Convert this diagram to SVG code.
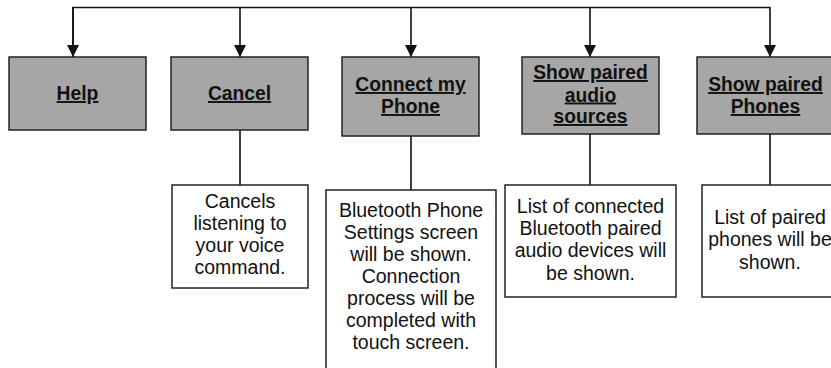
<svg xmlns="http://www.w3.org/2000/svg" width="831" height="368" viewBox="0 0 831 368">
<style>
.t{fill:#a6a6a6;stroke:#222;stroke-width:1.5}
.d{fill:#fff;stroke:#222;stroke-width:1.5}
.tt{font-family:"Liberation Sans",Arial,sans-serif;font-size:19.3px;font-weight:bold;text-decoration:underline;fill:#111;text-anchor:middle}
.dt{font-family:"Liberation Sans",Arial,sans-serif;font-size:19.5px;fill:#111;text-anchor:middle}
.c{fill:none;stroke:#111;stroke-width:1.6}
</style>
<defs>
<marker id="ah" viewBox="0 0 12 12" refX="12" refY="6" markerWidth="12" markerHeight="12" markerUnits="userSpaceOnUse" orient="auto">
<path d="M0,0 L12,6 L0,12 z" fill="#111"/>
</marker>
</defs>
<rect width="831" height="368" fill="#fff"/>
<g id="connectors">
<path class="c" d="M73,57 V7.5 H770 V57" marker-end="url(#ah)"/>
<path class="c" d="M73,7.5 V57" marker-end="url(#ah)"/>
<path class="c" d="M240,7.5 V57" marker-end="url(#ah)"/>
<path class="c" d="M411,7.5 V57" marker-end="url(#ah)"/>
<path class="c" d="M590,7.5 V57" marker-end="url(#ah)"/>
<path class="c" d="M240,130 V185"/>
<path class="c" d="M411,136 V190"/>
<path class="c" d="M590,134 V185"/>
<path class="c" d="M770,134 V185"/>
</g>
<g id="help">
<rect class="t" x="9" y="57" width="137" height="73"/>
<text class="tt" x="77.5" y="100">Help</text>
</g>
<g id="cancel">
<rect class="t" x="171" y="57" width="137" height="73"/>
<text class="tt" x="239.5" y="100">Cancel</text>
</g>
<g id="connect">
<rect class="t" x="342" y="57" width="137" height="79"/>
<text class="tt" x="410.5" y="91">Connect my</text>
<text class="tt" x="410.5" y="113">Phone</text>
</g>
<g id="audio">
<rect class="t" x="522" y="57" width="137" height="77"/>
<text class="tt" x="590.5" y="79">Show paired</text>
<text class="tt" x="590.5" y="101.5">audio</text>
<text class="tt" x="590.5" y="123">sources</text>
</g>
<g id="phones">
<rect class="t" x="697" y="57" width="137" height="77"/>
<text class="tt" x="765.5" y="91">Show paired</text>
<text class="tt" x="765.5" y="113">Phones</text>
</g>
<g id="cancel-desc">
<rect class="d" x="172" y="185" width="136" height="103"/>
<text class="dt" x="240" y="208">Cancels</text>
<text class="dt" x="240" y="230">listening to</text>
<text class="dt" x="240" y="252">your voice</text>
<text class="dt" x="240" y="273.5">command.</text>
</g>
<g id="connect-desc">
<rect class="d" x="326" y="190" width="170" height="190"/>
<text class="dt" x="411" y="217">Bluetooth Phone</text>
<text class="dt" x="411" y="239">Settings screen</text>
<text class="dt" x="411" y="261">will be shown.</text>
<text class="dt" x="411" y="283">Connection</text>
<text class="dt" x="411" y="305">process will be</text>
<text class="dt" x="411" y="327">completed with</text>
<text class="dt" x="411" y="349">touch screen.</text>
</g>
<g id="audio-desc">
<rect class="d" x="505" y="185" width="171" height="112"/>
<text class="dt" x="590.5" y="213">List of connected</text>
<text class="dt" x="590.5" y="235">Bluetooth paired</text>
<text class="dt" x="590.5" y="257">audio devices will</text>
<text class="dt" x="590.5" y="279.5">be shown.</text>
</g>
<g id="phones-desc">
<rect class="d" x="702" y="185" width="136" height="112"/>
<text class="dt" x="770" y="224">List of paired</text>
<text class="dt" x="770" y="246">phones will be</text>
<text class="dt" x="770" y="268.5">shown.</text>
</g>
</svg>
